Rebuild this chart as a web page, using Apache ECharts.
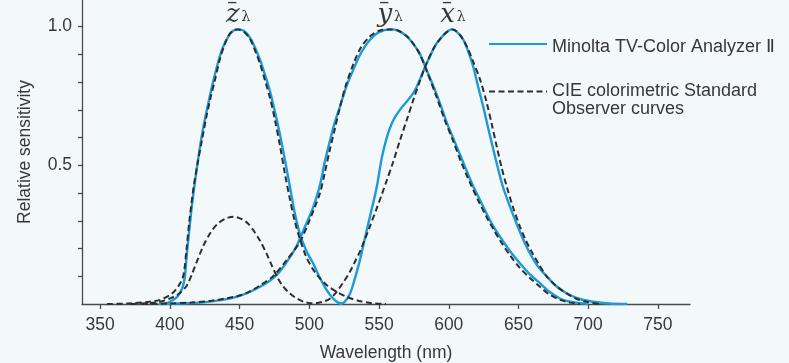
<!DOCTYPE html>
<html>
<head>
<meta charset="utf-8">
<script src="https://cdn.jsdelivr.net/npm/echarts@6/dist/echarts.min.js"></script>
<style>
  html, body { margin: 0; padding: 0; background: #f3f8fb; }
  #chart { width: 789px; height: 363px; }
</style>
</head>
<body>
<div id="chart"></div>
<script>
// Wavelength tick labels (nm) and sensitivity ticks
const xTicks = [350, 400, 450, 500, 550, 600, 650, 700, 750];
const yTicks = [0.1, 0.2, 0.3, 0.4, 0.5, 0.6, 0.7, 0.8, 0.9, 1.0];
const yLabels = [0.5, 1.0];

const seriesNames = ['Minolta TV-Color Analyzer \u2161', 'CIE colorimetric Standard Observer curves'];

// Minolta TV-Color Analyzer II response, [wavelength nm, relative sensitivity]
const minoltaZ = [[396,0],[400,0.008],[404,0.02],[407.3,0.04],[409.7,0.07],[411,0.11],[412,0.17],[414,0.27],[415.7,0.35],[418,0.44],[421.7,0.57],[424.5,0.65],[427.6,0.725],[431,0.8],[434.8,0.875],[438,0.925],[442,0.965],[445.5,0.985],[449,0.99],[453,0.985],[457.5,0.96],[461,0.925],[464.7,0.88],[468,0.83],[471.9,0.765],[475.5,0.69],[479,0.61],[482.5,0.52],[486.2,0.42],[489.5,0.33],[493.4,0.25],[498,0.19],[502.9,0.145],[507,0.1],[512.5,0.05],[517,0.02],[521,0.004],[524,0]];
const minoltaY = [[392,0],[405,0.002],[424,0.006],[448,0.026],[464.7,0.062],[476.7,0.105],[485,0.16],[491,0.21],[497,0.28],[502.9,0.35],[507.7,0.43],[511,0.51],[514.9,0.59],[518,0.65],[522,0.712],[527,0.79],[531.6,0.845],[537,0.905],[543.5,0.953],[550,0.98],[558,0.99],[564,0.985],[570,0.965],[575,0.935],[579.4,0.9],[584,0.845],[589,0.785],[594,0.72],[598.5,0.655],[603,0.6],[608,0.54],[612,0.49],[617.6,0.424],[622.4,0.375],[627,0.327],[632,0.28],[636.7,0.243],[644,0.19],[651,0.147],[658,0.108],[665.4,0.075],[672,0.045],[679.7,0.02],[687,0.008],[694,0.003],[700,0]];
const minoltaX = [[521,0],[525,0.006],[529,0.035],[532,0.08],[536.4,0.16],[540,0.24],[543.5,0.315],[548.3,0.42],[551.9,0.525],[555,0.59],[557.9,0.635],[561,0.67],[565,0.7],[569,0.725],[573.4,0.752],[576.5,0.778],[579.4,0.81],[583,0.855],[586.6,0.893],[590,0.93],[593.7,0.955],[598,0.978],[602,0.99],[606,0.98],[610.4,0.953],[614,0.91],[617.6,0.855],[621,0.785],[624.8,0.71],[628,0.64],[632,0.556],[635.5,0.485],[639,0.42],[644,0.35],[648.6,0.29],[653,0.237],[658.2,0.183],[664,0.135],[670.2,0.1],[677,0.065],[684.5,0.039],[694,0.018],[703.6,0.008],[715,0.002],[728,0]];

// CIE 1931 standard observer colour-matching functions, normalised to peak
const cieZ = [[355,0],[370,0.002],[385,0.008],[393,0.015],[400,0.032],[404,0.05],[408,0.08],[410,0.11],[412,0.2],[414,0.3],[417,0.42],[420,0.51],[423,0.59],[426,0.67],[429,0.74],[432,0.8],[436,0.885],[440,0.945],[443,0.975],[446,0.988],[449,0.99],[453,0.982],[457.5,0.955],[461,0.915],[464.7,0.865],[468,0.81],[472,0.74],[475.5,0.66],[479,0.57],[482.5,0.47],[486,0.38],[489.5,0.3],[493.4,0.232],[498,0.168],[502.9,0.123],[508,0.09],[513,0.066],[519.6,0.044],[527,0.025],[535,0.012],[545,0.003],[555,0]];
const cieY = [[380,0],[400,0.002],[415,0.005],[430,0.012],[440,0.02],[448,0.028],[456,0.042],[464,0.065],[474,0.1],[484,0.16],[493.4,0.225],[500,0.3],[504,0.35],[507.7,0.4],[511,0.47],[514.9,0.56],[518,0.625],[522,0.71],[526,0.785],[531.6,0.865],[537,0.925],[543.5,0.965],[550,0.985],[558,0.99],[564,0.985],[570,0.965],[575,0.935],[579.4,0.9],[585,0.83],[591.4,0.745],[597,0.665],[603,0.59],[609,0.51],[615,0.44],[621,0.375],[627,0.315],[632,0.27],[636.7,0.23],[644,0.175],[651,0.13],[658,0.095],[665.4,0.062],[672,0.035],[680,0.015],[687,0.005],[694,0]];
const cieX = [[372,0],[385,0.003],[393,0.008],[400,0.02],[406,0.035],[412,0.065],[416,0.11],[419,0.148],[424,0.21],[429,0.256],[434,0.288],[440,0.308],[445.6,0.315],[452,0.305],[456,0.29],[460,0.265],[465,0.225],[469.5,0.18],[473,0.14],[476.7,0.1],[481,0.065],[486,0.038],[491,0.02],[496,0.008],[501,0.003],[506,0.004],[511,0.01],[515,0.02],[519.6,0.044],[524,0.075],[529,0.115],[533,0.155],[536.4,0.19],[540,0.235],[543.5,0.28],[548,0.34],[552,0.395],[555.5,0.445],[560,0.51],[565,0.59],[570,0.665],[574.6,0.736],[579,0.8],[584.2,0.869],[589,0.92],[593.7,0.955],[598,0.978],[603,0.99],[608,0.97],[612.8,0.93],[617,0.88],[622.4,0.81],[627,0.73],[631,0.645],[634.3,0.57],[638,0.49],[641.5,0.425],[646,0.35],[651,0.28],[655,0.232],[660.6,0.178],[665,0.14],[670.2,0.1],[677,0.065],[684.5,0.038],[691,0.02],[698.9,0.008],[708,0]];

// Peak annotations: letter and the wavelength of the peak it marks
const peakLabels = [
  { letter: 'z', curve: cieZ, at: 449 },
  { letter: 'y', curve: cieY, at: 558 },
  { letter: 'x', curve: cieX, at: 603 }
];

const TEXT = '#383838';
const BLUE = '#1d9ad8';
const DASH = '#2e2e2e';
const FONT = '"Liberation Sans", Arial, Helvetica, sans-serif';
const SERIF = '"DejaVu Serif", serif';

function peakMark(p) {
  const pt = p.curve.find(d => d[0] === p.at);
  return {
    symbol: 'circle',
    symbolSize: 0,
    silent: true,
    data: [{
      coord: pt,
      label: {
        show: true,
        position: 'top',
        distance: 5.5,
        formatter: '{b|\u2013}\n{v|' + p.letter + '}{s|\u03bb}',
        rich: {
          b: { fontFamily: SERIF, fontSize: 20, color: TEXT, lineHeight: 7, padding: [0, 12, 0, 0] },
          v: { fontFamily: SERIF, fontStyle: 'italic', fontSize: 26, color: TEXT, lineHeight: 18 },
          s: { fontFamily: SERIF, fontSize: 14, color: TEXT, lineHeight: 18, padding: [4, 0, 0, 2] }
        }
      }
    }]
  };
}

function curve(name, data, dashed, mark) {
  const s = {
    name: name,
    type: 'line',
    data: data,
    symbol: 'none',
    smooth: 0.3,
    z: dashed ? 3 : 2,
    lineStyle: dashed
      ? { color: DASH, width: 2, type: [6, 3.5] }
      : { color: BLUE, width: 2.4 },
    itemStyle: { color: dashed ? DASH : BLUE }
  };
  if (mark) s.markPoint = mark;
  return s;
}

const legendText = { fontFamily: FONT, fontSize: 18, color: TEXT };

const chart = echarts.init(document.getElementById('chart'), null, { renderer: 'canvas' });

chart.setOption({
  backgroundColor: '#f3f8fb',
  animation: false,
  textStyle: { fontFamily: FONT, color: TEXT },
  grid: { left: 82, right: 99, top: 0, bottom: 59, outerBoundsMode: 'none' },
  legend: {
    orient: 'vertical',
    left: 488,
    top: 32,
    padding: 0,
    itemWidth: 58,
    itemHeight: 14,
    itemGap: 5,
    data: seriesNames,
    itemStyle: { color: 'transparent', borderColor: 'transparent', borderWidth: 0 },
    formatter: function (name) {
      return name === seriesNames[1]
        ? '{e| }\n{c|CIE colorimetric Standard}\n{c|Observer curves}'
        : '{t|' + name + '}';
    },
    textStyle: {
      fontFamily: FONT, fontSize: 18, color: TEXT,
      rich: {
        t: Object.assign({ lineHeight: 18, padding: [6, 0, 0, 0] }, legendText),
        e: Object.assign({ lineHeight: 18, padding: [7, 0, 0, 0] }, legendText),
        c: Object.assign({ lineHeight: 18 }, legendText)
      }
    }
  },
  xAxis: {
    type: 'value',
    min: 337,
    max: 773,
    name: 'Wavelength (nm)',
    nameLocation: 'middle',
    nameGap: 40,
    nameTextStyle: { fontFamily: FONT, fontSize: 17.5, color: TEXT },
    axisLine: { lineStyle: { color: '#4a4a4a', width: 1.3 } },
    axisTick: { show: true, length: 5, customValues: xTicks, lineStyle: { color: '#4a4a4a', width: 1.3 } },
    axisLabel: { customValues: xTicks, margin: 12, fontFamily: FONT, fontSize: 17.5, color: TEXT },
    splitLine: { show: false }
  },
  yAxis: {
    type: 'value',
    min: 0,
    max: 1.096,
    name: 'Relative sensitivity',
    nameLocation: 'middle',
    nameRotate: 90,
    nameGap: 48,
    nameTextStyle: { fontFamily: FONT, fontSize: 17.5, color: TEXT },
    axisLine: { show: true, lineStyle: { color: '#4a4a4a', width: 1.3 } },
    axisTick: { show: true, length: 4, customValues: yTicks, lineStyle: { color: '#4a4a4a', width: 1.3 } },
    axisLabel: {
      customValues: yLabels,
      margin: 10,
      fontFamily: FONT,
      fontSize: 17.5,
      color: TEXT,
      formatter: v => v.toFixed(1)
    },
    splitLine: { show: false }
  },
  series: [
    curve(seriesNames[0], minoltaZ, false),
    curve(seriesNames[0], minoltaY, false),
    curve(seriesNames[0], minoltaX, false),
    curve(seriesNames[1], cieZ, true, peakMark(peakLabels[0])),
    curve(seriesNames[1], cieY, true, peakMark(peakLabels[1])),
    curve(seriesNames[1], cieX, true, peakMark(peakLabels[2]))
  ]
});
</script>
</body>
</html>
